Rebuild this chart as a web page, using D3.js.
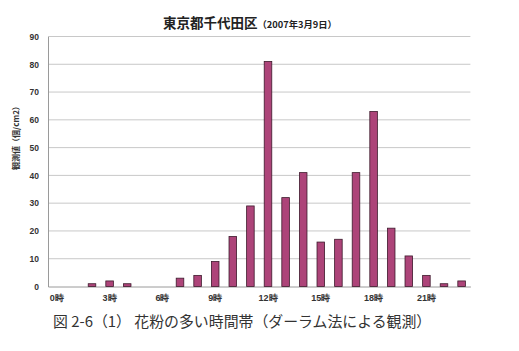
<!DOCTYPE html>
<html>
<head>
<meta charset="utf-8">
<script src="https://cdn.jsdelivr.net/npm/d3@7"></script>
<style>
  body { margin: 0; background: #fff; }
  svg { display: block; }
</style>
</head>
<body>
<div class="canvas"></div>
<script>
// data
const hours = d3.range(24);
const counts = [0, 0, 1, 2, 1, 0, 0, 3, 4, 9, 18, 29, 81, 32, 41, 16, 17, 41, 63, 21, 11, 4, 1, 2];
const yTicks = [0, 10, 20, 30, 40, 50, 60, 70, 80, 90];
const xLabelHours = [0, 3, 6, 9, 12, 15, 18, 21];

// dimensions
const dims = { width: 519, height: 351 };
const margin = { left: 48, right: 48.6, top: 36.5, bottom: 64.5 };
const innerW = dims.width - margin.left - margin.right;
const innerH = dims.height - margin.top - margin.bottom;

const svg = d3.select('.canvas')
    .append('svg')
    .attr('width', dims.width)
    .attr('height', dims.height)
    .style('font-family', '"Noto Sans CJK JP", "Noto Sans", sans-serif');

const graph = svg.append('g')
    .attr('transform', `translate(${margin.left}, ${margin.top})`);

// scales
const x = d3.scaleBand()
    .domain(hours)
    .range([0, innerW])
    .paddingInner(0.57)
    .paddingOuter(0.285);

const y = d3.scaleLinear()
    .domain([0, 90])
    .range([innerH, 0]);

// gridlines
graph.selectAll('line.grid')
    .data(yTicks.filter(d => d > 0))
    .enter()
    .append('line')
        .attr('class', 'grid')
        .attr('x1', 0)
        .attr('x2', innerW)
        .attr('y1', d => y(d))
        .attr('y2', d => y(d))
        .attr('stroke', '#c8c8c8')
        .attr('stroke-width', 1);

// y axis
const yAxis = d3.axisLeft(y)
    .tickValues(yTicks)
    .tickSize(0)
    .tickPadding(9);

const yG = graph.append('g').call(yAxis);
yG.select('.domain').attr('stroke', '#9a9a9a');
yG.selectAll('text')
    .attr('font-size', 8.5)
    .attr('font-weight', 'bold')
    .attr('fill', '#333');

// x axis
const xAxis = d3.axisBottom(x)
    .tickValues(xLabelHours)
    .tickFormat(d => d + '時')
    .tickSize(0)
    .tickPadding(8);

const xG = graph.append('g')
    .attr('transform', `translate(0, ${innerH})`)
    .call(xAxis);
xG.select('.domain').attr('stroke', '#9a9a9a');
xG.selectAll('text')
    .attr('font-size', 9)
    .attr('font-weight', 'bold')
    .attr('fill', '#333');

// bars
graph.selectAll('rect.bar')
    .data(hours)
    .enter()
    .append('rect')
        .attr('class', 'bar')
        .attr('x', d => x(d))
        .attr('width', x.bandwidth())
        .attr('y', d => y(counts[d]))
        .attr('height', d => innerH - y(counts[d]))
        .attr('fill', '#ad4479')
        .attr('stroke', '#3d1a2c')
        .attr('stroke-width', 0.8);

// title
const title = svg.append('text')
    .attr('x', 163)
    .attr('y', 28)
    .attr('fill', '#222');
title.append('tspan')
    .attr('font-size', 13.5)
    .attr('font-weight', 'bold')
    .text('東京都千代田区');
title.append('tspan')
    .attr('font-size', 9.3)
    .attr('font-weight', 'bold')
    .text('（2007年3月9日）');

// y axis title
svg.append('text')
    .attr('transform', 'translate(19, 136) rotate(-90)')
    .attr('text-anchor', 'middle')
    .attr('font-size', 8)
    .attr('font-weight', 'bold')
    .attr('fill', '#333')
    .text('観測値（個/cm2）');

// caption
svg.append('text')
    .attr('x', 53)
    .attr('y', 327)
    .attr('font-size', 14.9)
    .attr('fill', '#333')
    .text('図 2-6（1） 花粉の多い時間帯（ダーラム法による観測）');
</script>
</body>
</html>
